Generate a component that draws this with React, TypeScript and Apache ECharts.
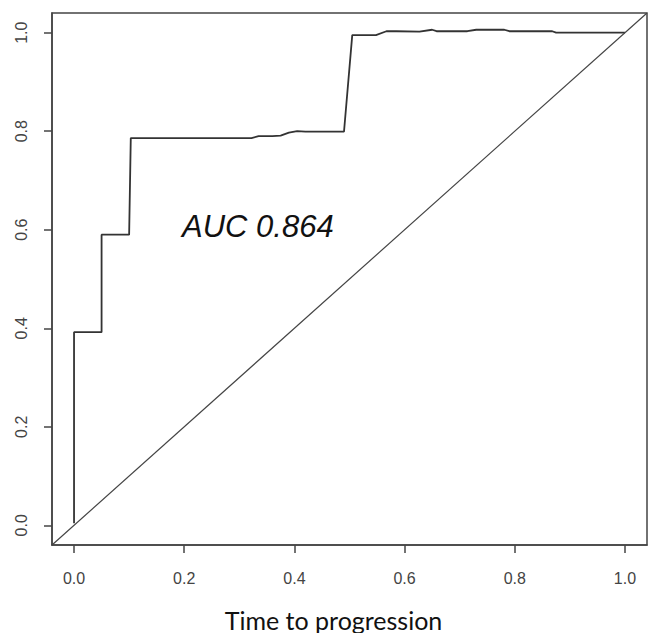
import React, { useEffect, useRef } from "react";
import * as echarts from "echarts";

const tickValues = [0, 0.2, 0.4, 0.6, 0.8, 1.0];
const rocPoints: [number, number][] = [
  [0, 0.004], [0, 0.392], [0.05, 0.392], [0.05, 0.59], [0.1, 0.59], [0.103, 0.786],
  [0.322, 0.786], [0.335, 0.79], [0.36, 0.79], [0.375, 0.791], [0.39, 0.797],
  [0.405, 0.8], [0.42, 0.799], [0.49, 0.799], [0.505, 0.995], [0.548, 0.995],
  [0.567, 1.003], [0.585, 1.003], [0.627, 1.002], [0.65, 1.006], [0.658, 1.003],
  [0.714, 1.003], [0.73, 1.006], [0.781, 1.006], [0.79, 1.003], [0.868, 1.003],
  [0.875, 1.0], [1.0, 1.0],
];
const diagonal: [number, number][] = [[-0.04, -0.04], [1.04, 1.04]];
const aucText = "AUC 0.864";
const xTitle = "Time to progression";

export default function App() {
  const ref = useRef<HTMLDivElement>(null);
  useEffect(() => {
    if (!ref.current) return;
    const chart = echarts.init(ref.current, null, { renderer: "svg" });
    const axisCommon = {
      type: "value" as const,
      min: -0.04,
      max: 1.04,
      splitLine: { show: false },
      axisLine: { show: true, onZero: false, lineStyle: { color: "#444", width: 1.5 } },
      axisTick: { show: true, customValues: tickValues, length: 8, lineStyle: { color: "#444", width: 1.5 } },
    };
    chart.setOption({
      animation: false,
      backgroundColor: "#fff",
      grid: {
        left: 52, top: 13, right: 2, bottom: 88,
        containLabel: false, outerBoundsMode: "none",
        show: true, borderColor: "#444", borderWidth: 1.5, backgroundColor: "transparent",
      },
      xAxis: {
        ...axisCommon,
        axisLabel: {
          customValues: tickValues,
          formatter: (v: number) => v.toFixed(1),
          color: "#444",
          fontFamily: "Liberation Sans",
          fontSize: 16,
          margin: 25,
        },
        name: xTitle,
        nameLocation: "middle",
        nameGap: 62,
        nameTextStyle: { fontFamily: "Lato", fontSize: 25, color: "#111", padding: [0, 32, 0, 0] },
      },
      yAxis: {
        ...axisCommon,
        axisLabel: {
          customValues: tickValues,
          formatter: (v: number) => v.toFixed(1),
          color: "#444",
          fontFamily: "Liberation Sans",
          fontSize: 16,
          rotate: 90,
          margin: 23,
        },
      },
      series: [
        {
          type: "line",
          data: rocPoints,
          symbol: "none",
          lineStyle: { color: "#333", width: 1.8 },
          clip: true,
        },
        {
          type: "line",
          data: diagonal,
          symbol: "none",
          lineStyle: { color: "#444", width: 1.2 },
          clip: true,
        },
      ],
      graphic: [
        {
          type: "text",
          left: 182,
          top: 211,
          style: { text: aucText, font: "italic 31px 'Liberation Sans'", fill: "#111" },
        },
      ],
    });
    return () => chart.dispose();
  }, []);
  return <div ref={ref} style={{ width: 649, height: 633, position: "absolute", left: 0, top: 0 }} />;
}
